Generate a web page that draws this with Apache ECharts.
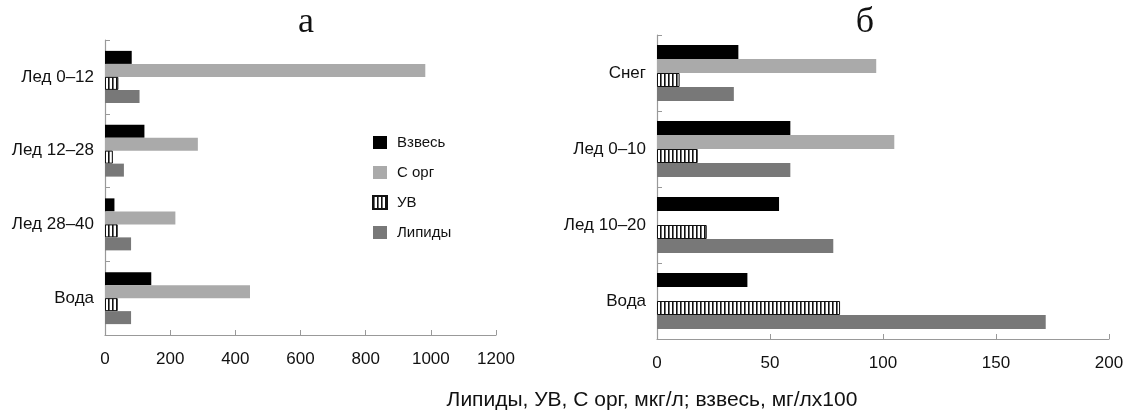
<!DOCTYPE html>
<html>
<head>
<meta charset="utf-8">
<script src="https://cdn.jsdelivr.net/npm/echarts@6/dist/echarts.min.js"></script>
<style>
  html, body { margin: 0; padding: 0; background: #fff; }
  #main { width: 1129px; height: 420px; }
</style>
</head>
<body>
<div id="main"></div>
<script>
// panel а
const catsA = ['Лед 0–12', 'Лед 12–28', 'Лед 28–40', 'Вода'];
const vzvesA = [82, 121, 29, 142];
const corgA = [983, 285, 216, 445];
const uvA = [41, 24, 39, 39];
const lipA = [106, 58, 80, 80];

// panel б
const catsB = ['Снег', 'Лед 0–10', 'Лед 10–20', 'Вода'];
const vzvesB = [36, 59, 54, 40];
const corgB = [97, 105, null, null];
const uvB = [10, 18, 22, 81];
const lipB = [34, 59, 78, 172];

const seriesNames = ['Взвесь', 'С орг', 'УВ', 'Липиды'];
const axisTitle = 'Липиды, УВ, С орг, мкг/л; взвесь, мг/лх100';

const FONT = '"Liberation Sans", Arial, sans-serif';

// vertical stripes for УВ
function stripePattern() {
  const c = document.createElement('canvas');
  c.width = 4;
  c.height = 8;
  const ctx = c.getContext('2d');
  ctx.fillStyle = '#fff';
  ctx.fillRect(0, 0, 4, 8);
  ctx.fillStyle = '#111';
  ctx.fillRect(0, 0, 1.6, 8);
  return c;
}
const stripes = { image: stripePattern(), repeat: 'repeat' };

const styles = [
  { color: '#000' },
  { color: '#aaaaaa' },
  { color: stripes, borderColor: '#111', borderWidth: 1 },
  { color: '#787878' }
];

function makeAxes(gridIndex, cats, max, interval) {
  const xAxis = {
    type: 'value',
    gridIndex: gridIndex,
    min: 0,
    max: max,
    interval: interval,
    axisLine: { show: true, lineStyle: { color: '#999', width: 1.2 } },
    axisTick: { show: true, inside: true, length: 5, lineStyle: { color: '#999' } },
    splitLine: { show: false },
    axisLabel: { color: '#111', fontSize: 17, fontFamily: FONT, margin: 16, formatter: v => String(v) }
  };
  const yAxis = {
    type: 'category',
    gridIndex: gridIndex,
    data: cats,
    inverse: true,
    axisLine: { show: true, lineStyle: { color: '#999', width: 1.2 } },
    axisTick: { show: true, inside: true, length: 5, lineStyle: { color: '#999' } },
    axisLabel: { color: '#111', fontSize: 17, fontFamily: FONT, margin: 11 }
  };
  return { xAxis, yAxis };
}

const axA = makeAxes(0, catsA, 1200, 200);
const axB = makeAxes(1, catsB, 200, 50);

function barSeries(idx, data, name, width) {
  return {
    type: 'bar',
    name: name,
    xAxisIndex: idx,
    yAxisIndex: idx,
    data: data,
    barWidth: width,
    barGap: '0%',
    itemStyle: styles[seriesNames.indexOf(name)],
    emphasis: { disabled: true },
    animation: false
  };
}

const dataA = [vzvesA, corgA, uvA, lipA];
const dataB = [vzvesB, corgB, uvB, lipB];

const series = [];
seriesNames.forEach((n, i) => series.push(barSeries(0, dataA[i], n, 13)));
seriesNames.forEach((n, i) => series.push(barSeries(1, dataB[i], n, 14)));

const chart = echarts.init(document.getElementById('main'));
chart.setOption({
  backgroundColor: '#fff',
  animation: false,
  grid: [
    { left: 105, right: 633, top: 40, bottom: 85 },
    { left: 657, right: 20, top: 35, bottom: 81 }
  ],
  xAxis: [axA.xAxis, axB.xAxis],
  yAxis: [axA.yAxis, axB.yAxis],
  legend: {
    data: seriesNames.map(n => ({ name: n, icon: 'rect' })),
    orient: 'vertical',
    left: 367,
    top: 130,
    itemWidth: 14,
    itemHeight: 13,
    itemGap: 15,
    textStyle: { color: '#111', fontSize: 15, fontFamily: FONT, padding: [0, 0, 0, 5] },
    selectedMode: false
  },
  graphic: [
    {
      type: 'text', x: 306, y: 23,
      style: { text: 'а', font: '36px "Liberation Serif", "Times New Roman", serif', fill: '#111', textAlign: 'center', textVerticalAlign: 'middle' }
    },
    {
      type: 'text', x: 865, y: 23,
      style: { text: 'б', font: '36px "Liberation Serif", "Times New Roman", serif', fill: '#111', textAlign: 'center', textVerticalAlign: 'middle' }
    },
    {
      type: 'text', x: 652, y: 400,
      style: { text: axisTitle, font: '21px ' + FONT, fill: '#111', textAlign: 'center', textVerticalAlign: 'middle' }
    }
  ],
  series: series
});
</script>
</body>
</html>
